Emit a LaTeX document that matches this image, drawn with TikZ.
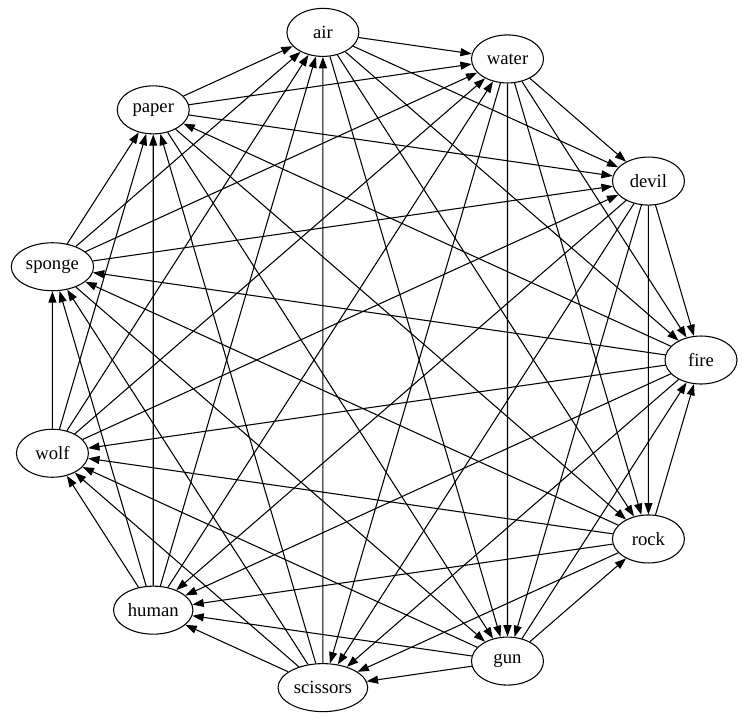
\documentclass[tikz,border=0pt]{standalone}
\usepackage{fontspec}
\setmainfont{Liberation Serif}
\usepackage{tikz}
\usetikzlibrary{shapes.geometric,arrows.meta}

\tikzset{
    player/.style={draw, ellipse, line width=0.8pt, minimum width=54pt, minimum height=36pt, inner sep=2pt, font=\fontsize{14}{16}\selectfont},
    beats/.style={line width=0.8pt, -{Triangle[length=8.5pt,width=6pt]}}
}

\begin{document}
\begin{tikzpicture}[x=0.75pt,y=-0.75pt]
    \useasboundingbox (0,0) rectangle (746,719);
    % players round the circle, fire on the right
    \foreach \name [count=\i from 0] in {fire,devil,water,air,paper,sponge,wolf,human,scissors,gun,rock} {
        \node[player] (\name) at ({370+331*cos(32.727*\i)}, {360-331*sin(32.727*\i)}) {\name};
    }
    % each one beats the next five
    \foreach \w/\losers in {rock/{fire,scissors,human,wolf,sponge},
                            fire/{scissors,human,wolf,sponge,paper},
                            scissors/{human,wolf,sponge,paper,air},
                            human/{wolf,sponge,paper,air,water},
                            wolf/{sponge,paper,air,water,devil},
                            sponge/{paper,air,water,devil,gun},
                            paper/{air,water,devil,gun,rock},
                            air/{water,devil,gun,rock,fire},
                            water/{devil,gun,rock,fire,scissors},
                            devil/{gun,rock,fire,scissors,human},
                            gun/{rock,fire,scissors,human,wolf}} {
        \foreach \l in \losers \draw[beats] (\w) -- (\l);
    }
\end{tikzpicture}
\end{document}
